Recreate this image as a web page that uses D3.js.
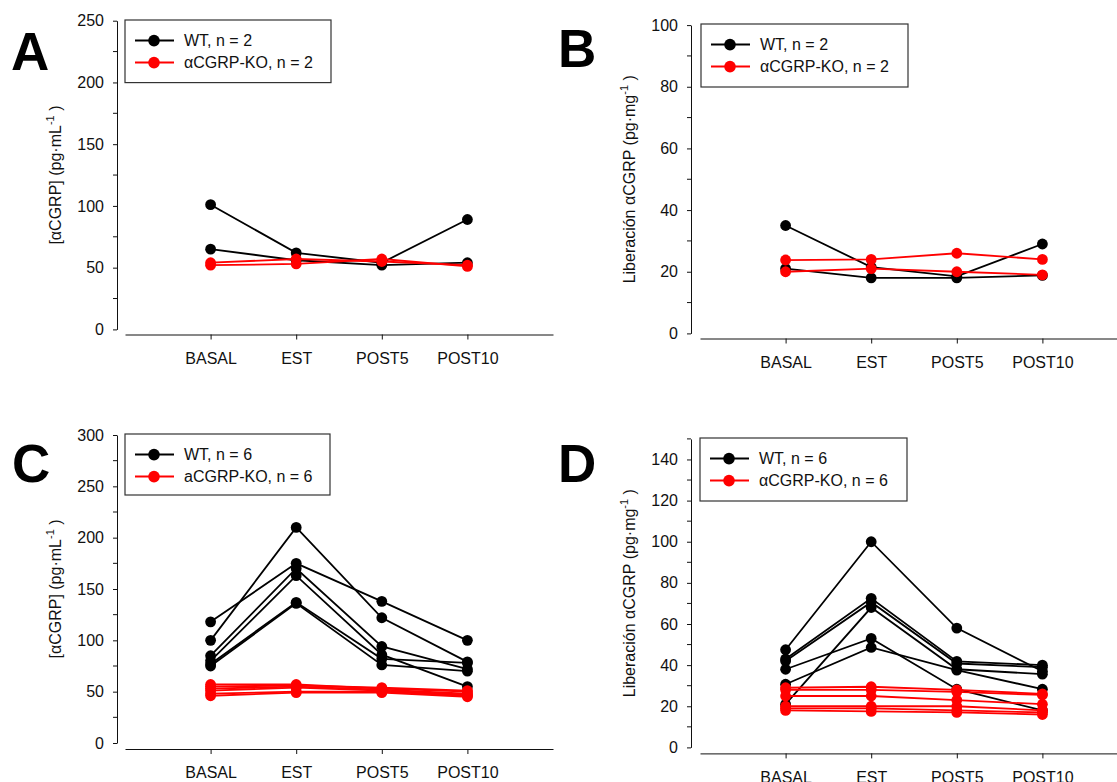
<!DOCTYPE html>
<html>
<head>
<meta charset="utf-8">
<script src="https://cdn.jsdelivr.net/npm/d3@7"></script>
<style>
  body { margin: 0; background: #fff; }
  svg { display: block; font-family: "Liberation Sans", Arial, sans-serif; }
</style>
</head>
<body>
<svg id="chart" width="1117" height="782"></svg>
<script>
// categories on the x axis
const categories = ['BASAL', 'EST', 'POST5', 'POST10']

// panel A - [aCGRP] pg/mL, n = 2
const wtA = [[101, 62, 54, 89], [65, 56, 52, 54]]
const koA = [[52, 53, 57, 51], [54, 57, 55, 52]]
// panel B - liberacion pg/mg, n = 2
const wtB = [[35, 21.5, 18.5, 29], [21, 18, 18, 18.8]]
const koB = [[23.8, 24, 26, 24], [20, 21, 20, 19]]
// panel C - [aCGRP] pg/mL, n = 6
const wtC = [[100, 210, 122, 79], [118, 175, 138, 100], [85, 170, 94, 72],
             [80, 163, 86, 55], [77, 137, 82, 78], [75, 136, 76, 70]]
const koC = [[57, 57, 53, 50], [55, 56, 54, 51], [53, 55, 52, 48],
             [51, 54, 51, 47], [48, 50, 50, 46], [46, 49, 49, 45]]
// panel D - liberacion pg/mg, n = 6
const wtD = [[47.5, 100, 58, 37], [43, 72.5, 41.8, 40], [42, 70.6, 40.8, 39],
             [21, 68, 38, 35.6], [38, 53, 28.3, 18], [30.7, 48.6, 37.6, 28.3]]
const koD = [[29, 29.5, 28, 26], [28, 28, 27, 25.5], [25, 25, 23, 21],
             [20, 20, 20, 18], [19, 19, 18, 17], [18, 17.5, 17, 16]]

const legendA = ['WT, n = 2', 'αCGRP-KO, n = 2']
const legendB = ['WT, n = 2', 'αCGRP-KO, n = 2']
const legendC = ['WT, n = 6', 'aCGRP-KO, n = 6']
const legendD = ['WT, n = 6', 'αCGRP-KO, n = 6']

const titleConc = ['[αCGRP] (pg·mL', '-1', ' )']
const titleLib = ['Liberación αCGRP (pg·mg', '-1', ' )']

const svg = d3.select('#chart')

const panels = [
  {letter: 'A', lx: 11, ly: 70, wt: wtA, ko: koA, legend: legendA, title: titleConc,
   yMax: 250, major: 50, minor: 25, axisX: 117, xr: [125, 553], yTop: 20.7, yBot: 329.4, axisY: 334.5,
   box: [125, 20, 206, 62.6], titleX: 61},
  {letter: 'B', lx: 558, ly: 67, wt: wtB, ko: koB, legend: legendB, title: titleLib,
   yMax: 100, major: 20, minor: 10, axisX: 691, xr: [700, 1128], yTop: 25.1, yBot: 333.4, axisY: 338.5,
   box: [701, 24, 207, 63], titleX: 635},
  {letter: 'C', lx: 12, ly: 482, wt: wtC, ko: koC, legend: legendC, title: titleConc,
   yMax: 300, major: 50, minor: 25, axisX: 117, xr: [125, 553], yTop: 435, yBot: 743, axisY: 749,
   box: [125, 434, 205, 61], titleX: 61},
  {letter: 'D', lx: 558, ly: 482, wt: wtD, ko: koD, legend: legendD, title: titleLib,
   yMax: 150, major: 20, minor: 10, axisX: 691, xr: [700, 1128], yTop: 438.9, yBot: 747.4, axisY: 753.4,
   box: [700, 438, 207, 63], titleX: 635}
]

panels.forEach(drawPanel)

function drawPanel(p) {
  const g = svg.append('g')

  const x = d3.scalePoint().domain(categories).range(p.xr).padding(1)
  const y = d3.scaleLinear().domain([0, p.yMax]).range([p.yBot, p.yTop])

  // panel letter
  g.append('text').attr('x', p.lx).attr('y', p.ly)
    .attr('font-size', 53).attr('font-weight', 'bold').text(p.letter)

  // y axis with minor ticks
  const majors = d3.range(0, p.yMax + 0.001, p.major)
  const yAxis = g.append('g').attr('transform', `translate(${p.axisX},0)`)
    .call(d3.axisLeft(y).tickValues(majors).tickSize(4).tickSizeOuter(0).tickPadding(9))
  yAxis.selectAll('text').attr('font-size', 16).attr('fill', '#111').attr('font-family', null)
  yAxis.selectAll('line, path').attr('stroke', '#111')
  const minors = d3.range(0, p.yMax + 0.001, p.minor).filter(v => !majors.includes(v))
  yAxis.selectAll('.minor').data(minors).join('line').attr('class', 'minor')
    .attr('x1', -4).attr('x2', 0).attr('y1', d => y(d)).attr('y2', d => y(d))
    .attr('stroke', '#111')

  // x axis
  const xAxis = g.append('g').attr('transform', `translate(0,${p.axisY})`)
    .call(d3.axisBottom(x).tickSize(5).tickSizeOuter(0).tickPadding(13))
  xAxis.selectAll('text').attr('font-size', 16).attr('fill', '#111').attr('font-family', null)
  xAxis.selectAll('line, path').attr('stroke', '#111')

  // y title
  const t = g.append('text')
    .attr('transform', `translate(${p.titleX},${(p.yTop + p.yBot) / 2}) rotate(-90)`)
    .attr('text-anchor', 'middle').attr('font-size', 16).attr('fill', '#111')
  t.append('tspan').text(p.title[0])
  t.append('tspan').attr('font-size', 11).attr('dy', -7).text(p.title[1])
  t.append('tspan').attr('dy', 7).text(p.title[2])

  const line = d3.line().x((d, i) => x(categories[i])).y(d => y(d))

  const groups = [{rows: p.wt, color: '#000'}, {rows: p.ko, color: '#ff0000'}]
  groups.forEach(grp => {
    const s = g.append('g')
    s.selectAll('path.series').data(grp.rows).join('path').attr('class', 'series')
      .attr('d', line).attr('fill', 'none').attr('stroke', grp.color).attr('stroke-width', 1.8)
    grp.rows.forEach(row => {
      s.append('g').selectAll('circle').data(row).join('circle')
        .attr('cx', (d, i) => x(categories[i])).attr('cy', d => y(d))
        .attr('r', 5.4).attr('fill', grp.color)
    })
  })

  // legend
  const [bx, by, bw, bh] = p.box
  const lg = g.append('g').attr('transform', `translate(${bx},${by})`)
  lg.append('rect').attr('width', bw).attr('height', bh)
    .attr('fill', '#fff').attr('stroke', '#333').attr('stroke-width', 1.2)
  const rows = lg.selectAll('g.row').data(p.legend).join('g').attr('class', 'row')
    .attr('transform', (d, i) => `translate(0,${i === 0 ? 20.6 : 42.6})`)
  rows.append('line').attr('x1', 10).attr('x2', 49)
    .attr('stroke', (d, i) => i === 0 ? '#000' : '#ff0000').attr('stroke-width', 2)
  rows.append('circle').attr('cx', 29).attr('r', 5.8)
    .attr('fill', (d, i) => i === 0 ? '#000' : '#ff0000')
  rows.append('text').attr('x', 59).attr('dy', '0.36em')
    .attr('font-size', 16).attr('fill', '#111').text(d => d)
}
</script>
</body>
</html>
